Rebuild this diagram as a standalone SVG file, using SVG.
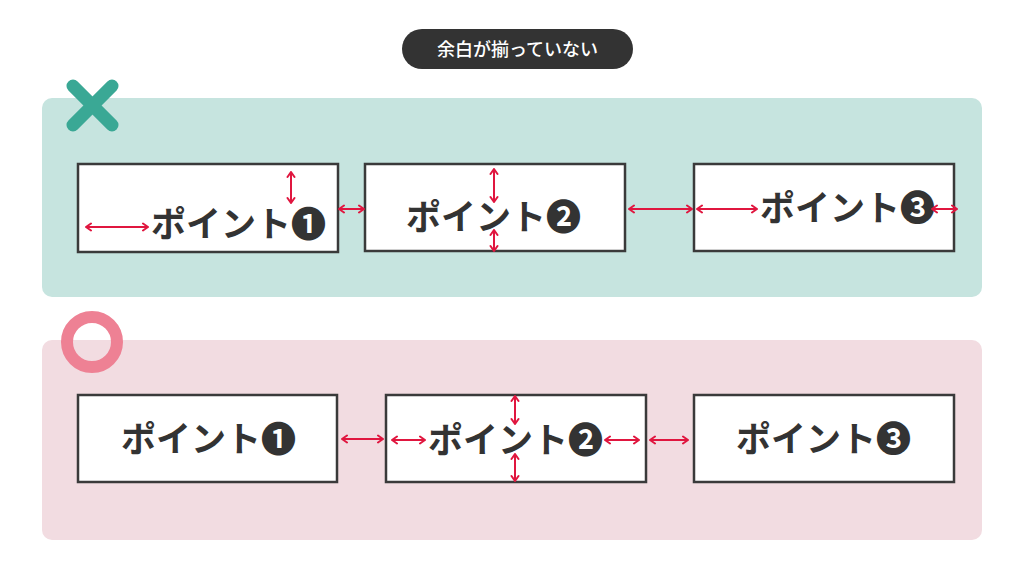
<svg xmlns="http://www.w3.org/2000/svg" width="1024" height="574" viewBox="0 0 1024 574">
<defs>
<style>
.panel-ng{fill:#c6e4df}
.panel-ok{fill:#f2dce1}
.box{fill:#ffffff;stroke:#3a3a3a;stroke-width:2.5}
.lbl{font-family:"Noto Sans CJK JP","Noto Sans",sans-serif;font-weight:700;font-size:35px;fill:#333333}
.arr{stroke:#e0163f;stroke-width:2;fill:none;marker-start:url(#ah);marker-end:url(#ah)}
</style>
<marker id="ah" viewBox="0 0 8 10" refX="7" refY="5" markerWidth="8" markerHeight="10" orient="auto-start-reverse" markerUnits="userSpaceOnUse">
<path d="M2,1.5 L7,5 L2,8.5" fill="none" stroke="#e0163f" stroke-width="2" stroke-linecap="round" stroke-linejoin="round"/>
</marker>
</defs>
<rect width="1024" height="574" fill="#ffffff"/>
<g id="title">
<rect x="402" y="29" width="231" height="40" rx="20" fill="#333333"/>
<text x="517.5" y="55.5" text-anchor="middle" font-family="Noto Sans CJK JP,sans-serif" font-weight="500" font-size="18" fill="#ffffff">余白が揃っていない</text>
</g>
<g id="panel-ng">
<rect class="panel-ng" x="42" y="98" width="940" height="199" rx="10"/>
<g stroke="#3aa895" stroke-width="13" stroke-linecap="round">
<line x1="73" y1="86" x2="112" y2="125"/>
<line x1="112" y1="86" x2="73" y2="125"/>
</g>
</g>
<g id="ng-box1">
<rect class="box" x="78" y="164" width="260" height="88"/>
<text class="lbl" x="151" y="237">ポイント❶</text>
</g>
<g id="ng-box2">
<rect class="box" x="365" y="164" width="260" height="87"/>
<text class="lbl" x="406" y="230">ポイント❷</text>
</g>
<g id="ng-box3">
<rect class="box" x="694" y="164" width="260" height="87"/>
<text class="lbl" x="760" y="221">ポイント❸</text>
</g>
<g id="panel-ok">
<rect class="panel-ok" x="42" y="340" width="940" height="200" rx="10"/>
<circle cx="92" cy="342" r="25" fill="none" stroke="#ee8194" stroke-width="12"/>
</g>
<g id="ok-box1">
<rect class="box" x="78" y="395" width="259" height="87"/>
<text class="lbl" x="121" y="452">ポイント❶</text>
</g>
<g id="ok-box2">
<rect class="box" x="386" y="395" width="260" height="87"/>
<text class="lbl" x="428" y="453">ポイント❷</text>
</g>
<g id="ok-box3">
<rect class="box" x="694" y="395" width="260" height="87"/>
<text class="lbl" x="736" y="452">ポイント❸</text>
</g>
<g id="connectors">
<line class="arr" x1="86" y1="227" x2="148" y2="227"/>
<line class="arr" x1="291" y1="172" x2="291" y2="203"/>
<line class="arr" x1="339" y1="209" x2="364" y2="209"/>
<line class="arr" x1="494" y1="169" x2="494" y2="202"/>
<line class="arr" x1="494" y1="230" x2="494" y2="251"/>
<line class="arr" x1="629" y1="209" x2="692" y2="209"/>
<line class="arr" x1="697" y1="209" x2="757" y2="209"/>
<line class="arr" x1="932" y1="209" x2="957" y2="209"/>
<line class="arr" x1="342" y1="439" x2="383" y2="439"/>
<line class="arr" x1="392" y1="440" x2="425" y2="440"/>
<line class="arr" x1="605" y1="440" x2="639" y2="440"/>
<line class="arr" x1="650" y1="440" x2="688" y2="440"/>
<line class="arr" x1="515" y1="396" x2="515" y2="424"/>
<line class="arr" x1="515" y1="454" x2="515" y2="481"/>
</g>
</svg>
